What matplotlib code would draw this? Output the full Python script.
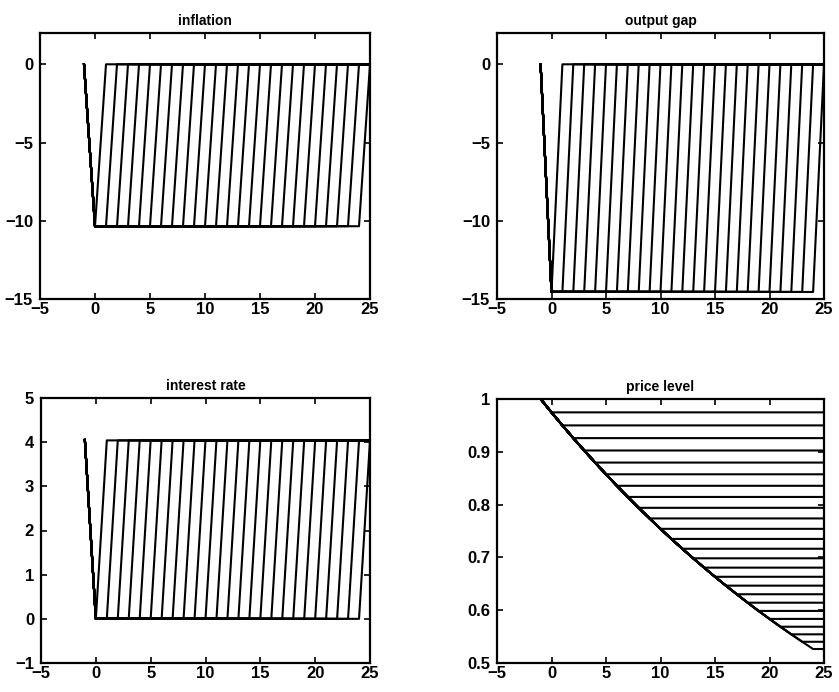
import matplotlib
matplotlib.use("Agg")
import matplotlib.pyplot as plt

plt.rcParams['font.family'] = ['Liberation Sans', 'DejaVu Sans']

# ---- data ----
periods = list(range(-1, 26))          # t = -1 .. 25
exit_periods = list(range(0, 25))      # scenario: trap lasts through period k

inflation_pre, inflation_trap, inflation_after = 0.0, -10.35, 0.0
outgap_pre, outgap_trap, outgap_after = 0.0, -14.55, 0.0
rate_pre, rate_trap, rate_after = 4.05, 0.0, 4.04

price_path = [1.0000, 0.9747, 0.9500, 0.9259, 0.9025, 0.8796, 0.8574, 0.8356,
              0.8145, 0.7939, 0.7738, 0.7541, 0.7350, 0.7164, 0.6983, 0.6806,
              0.6633, 0.6465, 0.6302, 0.6142, 0.5986, 0.5835, 0.5687, 0.5543,
              0.5402, 0.5265, 0.5132]

titles = ["inflation", "output gap", "interest rate", "price level"]
xticks = [-5, 0, 5, 10, 15, 20, 25]
yticks_infl = [-15, -10, -5, 0]
yticks_gap = [-15, -10, -5, 0]
yticks_rate = [-1, 0, 1, 2, 3, 4, 5]
yticks_price = [0.5, 0.6, 0.7, 0.8, 0.9, 1.0]
ylims = [(-15, 2), (-15, 2), (-1, 5), (0.5, 1.0)]


def regime_path(pre, trap, after, k):
    n_after = len(periods) - 1 - (k + 1)
    return [pre] + [trap] * (k + 1) + [after] * n_after


def price_scenario(k):
    idx = k + 1
    return price_path[:idx + 1] + [price_path[idx]] * (len(periods) - idx - 1)


fig = plt.figure(figsize=(8.39, 6.92), dpi=100)
W, H = 839, 692
boxes = [(40, 33, 370, 299), (497, 33, 824, 299),
         (41, 398, 370, 663), (497, 399, 824, 663)]
axes = []
for (l, t, r, b) in boxes:
    axes.append(fig.add_axes([l / W, 1 - b / H, (r - l) / W, (b - t) / H]))

lw = 1.5
for k in exit_periods:
    axes[0].plot(periods, regime_path(inflation_pre, inflation_trap, inflation_after, k), color='black', lw=lw)
    axes[1].plot(periods, regime_path(outgap_pre, outgap_trap, outgap_after, k), color='black', lw=lw)
    axes[2].plot(periods, regime_path(rate_pre, rate_trap, rate_after, k), color='black', lw=lw)
    axes[3].plot(periods, price_scenario(k), color='black', lw=lw)

ytick_sets = [yticks_infl, yticks_gap, yticks_rate, yticks_price]
for ax, title, yt, yl in zip(axes, titles, ytick_sets, ylims):
    ax.set_xlim(-5, 25)
    ax.set_ylim(*yl)
    ax.set_xticks(xticks)
    ax.set_yticks(yt)
    if ax is axes[3]:
        ax.set_yticklabels(["0.5", "0.6", "0.7", "0.8", "0.9", "1"])
    ax.set_title(title, fontsize=10, fontweight='bold', pad=6)
    ax.tick_params(direction='in', length=4, width=1.2, top=True, right=True,
                   labelsize=12)
    ax.tick_params(axis='x', pad=2)
    ax.tick_params(axis='y', pad=5)
    for lab in ax.get_xticklabels() + ax.get_yticklabels():
        lab.set_fontweight('bold')
    for s in ax.spines.values():
        s.set_linewidth(1.6)

fig.savefig("out.png", dpi=100)
